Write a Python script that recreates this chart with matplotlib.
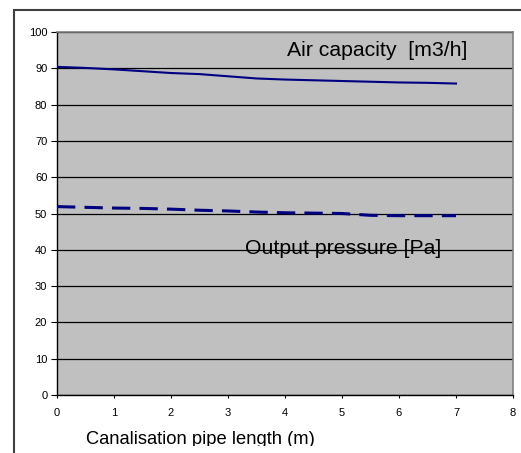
import matplotlib
matplotlib.use("Agg")
import matplotlib.pyplot as plt
from matplotlib.patches import Rectangle
from matplotlib.transforms import Bbox, TransformedBbox

plt.rcParams['font.family'] = ['Liberation Sans', 'DejaVu Sans']

length_m = [0, 0.5, 1, 1.5, 2, 2.5, 3, 3.5, 4, 4.5, 5, 5.5, 6, 6.5, 7]
air_capacity = [90.4, 90.1, 89.7, 89.2, 88.7, 88.4, 87.8, 87.2, 86.9, 86.7, 86.5, 86.3, 86.1, 86.0, 85.8]
output_pressure = [51.9, 51.7, 51.5, 51.4, 51.2, 50.9, 50.7, 50.4, 50.2, 50.1, 50.0, 49.5, 49.4, 49.4, 49.4]
x_ticks = [0, 1, 2, 3, 4, 5, 6, 7, 8]
y_ticks = [0, 10, 20, 30, 40, 50, 60, 70, 80, 90, 100]

W, H = 521, 453
fig = plt.figure(figsize=(W / 100, H / 100), dpi=100)

# outer chart frame (cropped at right and bottom)
fig.patches.append(Rectangle((14 / W, -0.1), 1.2, (H - 10) / H + 0.1,
                             transform=fig.transFigure, fill=False,
                             edgecolor='#404040', linewidth=1.5))

left, right, top, bottom = 57, 513, 32, 395
ax = fig.add_axes([left / W, 1 - bottom / H, (right - left) / W, (bottom - top) / H])
ax.set_facecolor('#C0C0C0')

ax.plot(length_m, air_capacity, color='#000080', lw=1.5, zorder=3)
ax.plot(length_m, output_pressure, color='#000080', lw=2.2,
        linestyle=(0, (6, 3)), zorder=3)

ax.set_xlim(0, 8)
ax.set_ylim(0, 100)
ax.set_xticks(x_ticks)
ax.set_yticks(y_ticks)
ax.yaxis.grid(True, color='black', lw=0.9)
ax.set_axisbelow(True)

for s in ['top', 'right']:
    ax.spines[s].set_color('#808080')
    ax.spines[s].set_linewidth(1.2)
for s in ['left', 'bottom']:
    ax.spines[s].set_color('black')
    ax.spines[s].set_linewidth(1.0)

ax.tick_params(axis='y', direction='out', length=4, width=0.8, labelsize=8, pad=3)
ax.tick_params(axis='x', direction='out', length=2.5, width=0.8, labelsize=8, pad=6.5)

ax.text(5.61, 94.8, 'Air capacity  [m3/h]', fontsize=15.3, ha='center', va='center', zorder=4)
ax.text(5.02, 40.3, 'Output pressure [Pa]', fontsize=15.3, ha='center', va='center', zorder=4)

clip = TransformedBbox(Bbox([[0, 7 / H], [1, 1]]), fig.transFigure)
t = fig.text(200 / W, 1 - 444 / H, 'Canalisation pipe length (m)', fontsize=13.2,
             ha='center', va='baseline')
t.set_clip_box(clip)
t.set_clip_on(True)

fig.savefig('out.png', dpi=100, facecolor='white')
